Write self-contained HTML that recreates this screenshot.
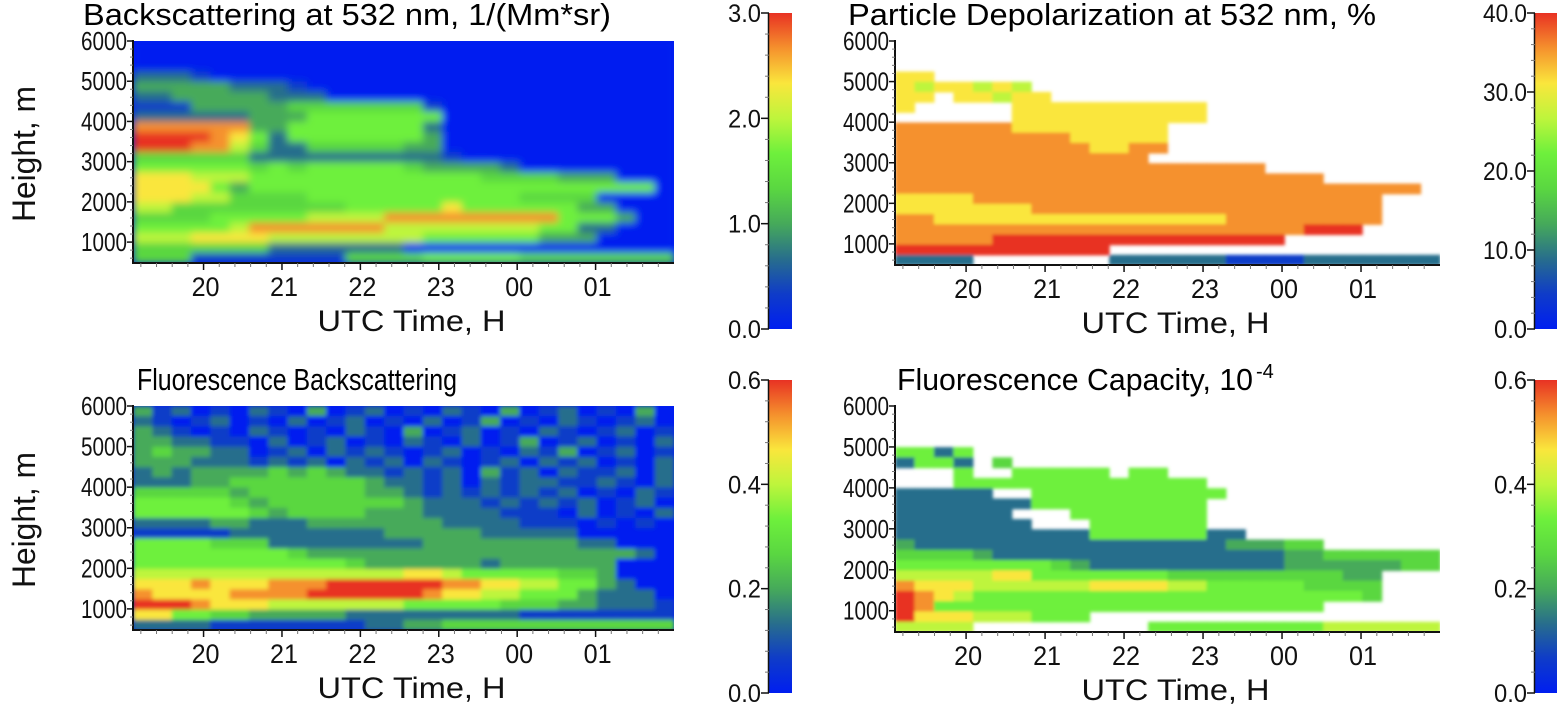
<!DOCTYPE html>
<html>
<head>
<meta charset="utf-8">
<style>
  html,body{margin:0;padding:0;background:#fff;}
  svg{display:block;font-family:"Liberation Sans",Arial,sans-serif;}
</style>
</head>
<body>
<svg id="fig" width="1557" height="709" viewBox="0 0 1557 709" xmlns="http://www.w3.org/2000/svg">
  <defs>
    <filter id="soft" x="-2%" y="-2%" width="104%" height="104%">
      <feGaussianBlur stdDeviation="4" edgeMode="duplicate"/>
    </filter>
    <filter id="soft2" x="-2%" y="-2%" width="104%" height="104%">
      <feGaussianBlur stdDeviation="2" edgeMode="duplicate"/>
    </filter>
    <filter id="soft3" x="-2%" y="-2%" width="104%" height="104%">
      <feGaussianBlur stdDeviation="1.5"/>
    </filter>
    <linearGradient id="cmapGrad" x1="0" y1="1" x2="0" y2="0"></linearGradient>
  </defs>
  <text x="83" y="25" font-size="31" textLength="528" lengthAdjust="spacingAndGlyphs">Backscattering at 532 nm, 1/(Mm*sr)</text>
  <text x="848" y="25" font-size="31" textLength="528" lengthAdjust="spacingAndGlyphs">Particle Depolarization at 532 nm, %</text>
  <text x="137" y="390" font-size="31" textLength="320" lengthAdjust="spacingAndGlyphs">Fluorescence Backscattering</text>
  <text x="897" y="390" font-size="31" textLength="356" lengthAdjust="spacingAndGlyphs">Fluorescence Capacity, 10</text>
  <text x="1256" y="378" font-size="20">-4</text>
</svg>
<script>
// ---- data ----
const timeTickValues = [20, 21, 22, 23, 24, 25];
const timeTickLabels = ["20", "21", "22", "23", "00", "01"];
const heightTicks = [1000, 2000, 3000, 4000, 5000, 6000];
const bscTicks = [0, 1, 2, 3];
const bscTickLabels = ["0.0", "1.0", "2.0", "3.0"];
const depolTicks = [0, 10, 20, 30, 40];
const depolTickLabels = ["0.0", "10.0", "20.0", "30.0", "40.0"];
const fluoTicks = [0, 0.2, 0.4, 0.6];
const fluoTickLabels = ["0.0", "0.2", "0.4", "0.6"];
const bscMax = 3.0, depolMax = 40.0, fluoMax = 0.6, capMax = 0.6;

// rows: top (6000 m) to bottom (480 m); chars = level 0..9 (value = level/9*max), '.' = no data
const bscRows = [
"0","0","0",
"2221",
"33333222100",
"2233333222",
"1113333344444441",
"2222223335555555",
"8888883355555552",
"9999875255555553",
"9998864224444433",
"44444422222222221",
"55555545455555433332",
"7776665555555555554444333",
"777753555555555555555555555",
"7776644445555555555544440",
"66444444444555557555555330",
"444455555666688888888855530",
"5555568888888666666665522",
"6667777666666665555553330",
"44444442222222",
"4441111111144445555544444444"
];
const depolRows = [
"","","",
"77",
"7677676",
"77.77677",
"7.....7777777777",
"......7777777777",
"88888877777777",
"88888888877777",
"88888888887788",
"8888888888888",
"8888888888888888888",
"8888888888888888888888",
"888888888888888888888888888",
"7777888888888888888888888",
"7777777888888888888888888",
"8877777777777777788888888",
"888888888888888888888999",
"88888999999999999999",
"99999999999",
"2222.......22222211112222222"
];
const fluoRows = [
"3120102103012010210301201030",
"2101201020120102013010210120",
"3210102101021030120102101201",
"3322110201201021020130120102",
"3433220120212101201021301201",
"3332221212021202101202120102",
"2323333434322121203120211202",
"2223344444443221202122112102",
"4444434444443321212121201021",
"5555543444444432221212120120",
"5555554344443332222111020102",
"2222332223333333222211101010",
"1111122222222333332222200000",
"5555444222222223333333322000",
"5555555543333333333333333320",
"5555555555543333332333333000",
"6666666666666677655555443000",
"7778777888999999887766553200",
"8777788889999998776655532220",
"9998777666666655555444332221",
"7755443333322222222211111111",
"2222111111112233444444444444"
];
const capRows = [
"","","","",
"5525",
"2552.4",
"...5..55555.55",
"...5555555555555",
"22222..5555555555",
"2222222555555555",
"222222...5555555",
"2222222...555555",
"222222222255555522",
"3222222222222222233344",
"4444322222222222222233444444",
"5555555543222222222233333344",
"6666677555555544444444433",
"8777666666777766555554444",
"9876555555555555555555554",
"9855555555555555555555",
"9777666555",
"6666.........555555555666666"
];

// ---- rendering ----
const SVGNS = "http://www.w3.org/2000/svg";
const svg = document.getElementById("fig");
const T0 = 19.1, T1 = 26.0, H0 = 480, H1 = 6000, NC = 28;
const cmapStops = [[0,30,240],[15,60,200],[40,110,140],[70,170,90],[90,215,65],[110,240,60],[190,245,60],[250,230,60],[245,145,45],[232,50,35]];

function cmap(f) {
  f = Math.max(0, Math.min(1, f));
  const p = f * (cmapStops.length - 1);
  const i = Math.min(cmapStops.length - 2, Math.floor(p));
  const k = p - i;
  const a = cmapStops[i], b = cmapStops[i + 1];
  return "rgb(" + [0,1,2].map(j => Math.round(a[j] + (b[j] - a[j]) * k)).join(",") + ")";
}
function mk(tag, attrs, parent) {
  const e = document.createElementNS(SVGNS, tag);
  for (const k in attrs) e.setAttribute(k, attrs[k]);
  (parent || svg).appendChild(e);
  return e;
}

const grad = document.getElementById("cmapGrad");
cmapStops.forEach((s, i) => {
  mk("stop", {offset: (i / (cmapStops.length - 1)), "stop-color": "rgb(" + s.join(",") + ")"}, grad);
});

function drawPanel(key, px0, px1, py0, py1, rows, vmax, pad, bg, filterId, showYLabel) {
  const tx = t => px0 + (t - T0) / (T1 - T0) * (px1 - px0);
  const hy = h => py1 - (h - H0) / (H1 - H0) * (py1 - py0);
  const g = mk("g", {});
  
  
  const clipId = "clip-" + key;
  const cp = mk("clipPath", {id: clipId}, g);
  mk("rect", {x: px0, y: py0, width: px1 - px0, height: py1 - py0}, cp);
  const inner = mk("g", {"clip-path": "url(#" + clipId + ")"}, g);
  if (bg) mk("rect", {x: px0, y: py0, width: px1 - px0, height: py1 - py0, fill: bg}, inner);
  const cells = mk("g", filterId ? {filter: "url(#" + filterId + ")"} : {}, inner);
  const NR = rows.length;
  for (let r = 0; r < NR; r++) {
    const row = rows[r].padEnd(NC, pad);
    const hTop = H1 - r * (H1 - H0) / NR, hBot = H1 - (r + 1) * (H1 - H0) / NR;
    for (let c = 0; c < NC; c++) {
      const ch = row[c];
      if (ch === "." || ch === undefined) continue;
      const v = parseInt(ch, 10) / 9 * vmax;
      const tA = T0 + c * (T1 - T0) / NC, tB = T0 + (c + 1) * (T1 - T0) / NC;
      const cell = mk("rect", {x: tx(tA), y: hy(hTop), width: tx(tB) - tx(tA) + 0.6, height: hy(hBot) - hy(hTop) + 0.6, fill: cmap(v / vmax)}, cells);
      
      
    }
  }
  const ax = mk("g", {stroke: "#111", "stroke-width": 1.5, fill: "none"});
  
  
  mk("line", {x1: px0, y1: py0 - 1, x2: px0, y2: py1 + 1, "stroke-width": 2}, ax);
  mk("line", {x1: px0 - 1, y1: py1, x2: px1, y2: py1, "stroke-width": 2}, ax);
  for (let h = 600; h <= 6000; h += 200) {
    const major = h % 1000 === 0;
    mk("line", {x1: px0 - (major ? 6 : 3), y1: hy(h), x2: px0, y2: hy(h), "stroke-width": major ? 1.5 : 1, stroke: major ? "#111" : "#777"}, ax);
  }
  for (let t = 19.2; t < T1 - 0.01; t += 0.2) {
    const major = Math.abs(t - Math.round(t)) < 0.01;
    mk("line", {x1: tx(t), y1: py1, x2: tx(t), y2: py1 + (major ? 7 : 4), "stroke-width": major ? 1.5 : 1, stroke: major ? "#111" : "#777"}, ax);
  }
  heightTicks.forEach(h => {
    const t = mk("text", {x: px0 - 6, y: hy(h) + 9, "font-size": 26, "text-anchor": "end", textLength: 46, lengthAdjust: "spacingAndGlyphs", fill: "#111"});
    t.textContent = String(h);
    
    
  });
  timeTickValues.forEach((tv, i) => {
    const t = mk("text", {x: tx(tv) + 2, y: py1 + 33, "font-size": 27, "text-anchor": "middle", textLength: 28, lengthAdjust: "spacingAndGlyphs", fill: "#111"});
    t.textContent = timeTickLabels[i];
    
    
  });
  const xl = mk("text", {x: (px0 + px1) / 2 + 8, y: py1 + 68, "font-size": 30, "text-anchor": "middle", textLength: 188, lengthAdjust: "spacingAndGlyphs", fill: "#111"});
  xl.textContent = "UTC Time, H";
  
  
  if (showYLabel) {
    const cy = (py0 + py1) / 2 + 2;
    const yl = mk("text", {x: 0, y: 0, transform: "translate(35," + cy + ") rotate(-90)", "font-size": 32, "text-anchor": "middle", textLength: 136, lengthAdjust: "spacingAndGlyphs", fill: "#111"});
    yl.textContent = "Height, m";
    
    
  }
}

function drawColorbar(key, cx, top, bot, ticks, labels, vmax) {
  const g = mk("g", {});
  
  
  mk("rect", {x: cx, y: top, width: 23, height: bot - top, fill: "url(#cmapGrad)"}, g);
  mk("line", {x1: cx - 0.5, y1: top, x2: cx - 0.5, y2: bot, stroke: "#111", "stroke-width": 1.5}, g);
  const yv = v => bot - v / vmax * (bot - top);
  const step = (ticks[1] - ticks[0]) / 5;
  for (let v = 0; v <= vmax + 1e-9; v += step) {
    mk("line", {x1: cx - 4, y1: yv(v), x2: cx, y2: yv(v), stroke: "#777", "stroke-width": 1}, g);
  }
  ticks.forEach((v, i) => {
    mk("line", {x1: cx - 8, y1: yv(v), x2: cx, y2: yv(v), stroke: "#111", "stroke-width": 1.5}, g);
    const t = mk("text", {x: cx - 8, y: yv(v) + 9, "font-size": 25, "text-anchor": "end", textLength: labels[i].length * 11, lengthAdjust: "spacingAndGlyphs", fill: "#111"}, g);
    t.textContent = labels[i];
    
    
  });
}

drawPanel("backscatter", 133, 674, 41, 263, bscRows, bscMax, "0", "rgb(0,30,240)", "soft", true);
drawPanel("depolarization", 895, 1440, 41, 265, depolRows, depolMax, ".", null, "soft3", false);
drawPanel("fluorescence-backscatter", 133, 674, 406, 630, fluoRows, fluoMax, "0", "rgb(0,30,240)", "soft2", true);
drawPanel("fluorescence-capacity", 895, 1440, 406, 632, capRows, capMax, ".", null, "soft3", false);

drawColorbar("backscatter", 769, 13, 329, bscTicks, bscTickLabels, bscMax);
drawColorbar("depolarization", 1535, 13, 329, depolTicks, depolTickLabels, depolMax);
drawColorbar("fluorescence-backscatter", 769, 380, 693, fluoTicks, fluoTickLabels, fluoMax);
drawColorbar("fluorescence-capacity", 1535, 380, 693, fluoTicks, fluoTickLabels, capMax);
</script>
</body>
</html>
